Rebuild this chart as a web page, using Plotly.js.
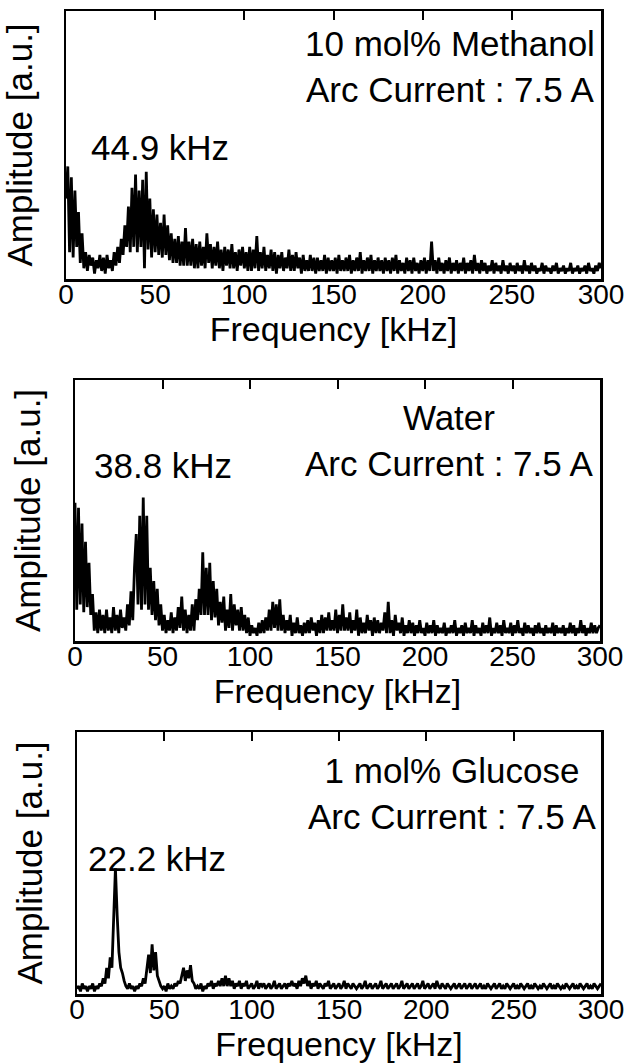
<!DOCTYPE html>
<html>
<head>
<meta charset="utf-8">
<script src="https://cdn.plot.ly/plotly-3.0.1.min.js"></script>
<style>html,body{margin:0;padding:0;background:#fff;}#chart{width:624px;height:1063px;}</style>
</head>
<body>
<div id="chart"></div>
<script>
// Frequency axis (kHz), 1 kHz steps
const freqKHz = Array.from({length: 301}, (_, i) => i);

// Amplitude [a.u.] (0 = frame bottom, 100 = frame top)
const methanol10 = [
  30,42,10,38,8,33,12,25,6,17,
  4,10,3,9,5,8,2,7,4,9,
  3,8,2,9,4,7,3,10,5,12,
  6,15,9,20,12,27,10,34,12,39,
  10,33,12,37,4,40,11,30,8,26,
  10,24,9,21,8,24,9,20,7,17,
  6,15,6,16,5,14,5,19,5,14,
  5,15,4,13,4,14,5,12,4,17,
  6,13,4,12,5,14,4,11,3,12,
  5,11,4,13,4,10,3,11,5,12,
  4,10,3,12,3,11,4,16,3,10,
  4,12,3,9,4,11,3,10,2,9,
  4,10,3,8,4,11,3,9,3,10,
  4,8,2,9,3,7,3,9,3,8,
  2,8,3,7,3,9,2,8,3,7,
  3,8,2,9,3,7,3,8,3,9,
  2,7,3,8,3,10,2,7,3,8,
  3,9,2,7,3,8,3,7,2,8,
  3,7,2,8,3,9,2,7,3,6,
  2,8,3,7,2,8,3,6,2,7,
  3,8,2,7,3,14,3,7,2,8,
  3,6,2,7,3,8,2,6,3,7,
  2,6,3,8,2,6,3,7,2,9,
  3,6,2,7,3,6,2,5,3,7,
  2,6,3,5,2,7,3,5,2,6,
  3,5,2,6,3,5,2,7,3,5,
  2,6,3,5,2,4,3,6,2,5,
  3,4,2,5,3,6,2,4,3,5,
  2,4,3,6,2,4,3,5,2,4,
  3,5,2,6,3,4,2,5,3,6,
  4
];
const water = [
  53,12,51,14,45,11,38,13,30,10,
  18,4,11,3,12,4,10,3,12,4,
  9,3,13,4,10,3,12,5,9,4,
  14,6,19,8,28,41,14,48,12,55,
  14,48,12,28,10,23,8,20,6,14,
  4,10,3,8,4,11,3,9,4,13,
  5,17,4,12,3,10,4,14,4,16,
  8,20,10,34,10,28,10,30,8,23,
  9,20,6,15,7,17,4,12,5,18,
  4,14,6,12,4,13,4,10,3,9,
  2,6,3,5,2,7,3,8,3,9,
  4,12,4,15,5,14,4,16,4,10,
  3,8,4,10,2,7,3,9,3,6,
  2,7,3,8,3,9,4,7,2,8,
  3,10,3,9,4,11,4,8,4,12,
  3,10,4,14,4,9,4,11,3,8,
  4,12,2,9,3,7,3,10,4,8,
  2,9,3,8,3,7,4,11,3,15,
  3,8,2,10,4,7,3,9,2,6,
  3,8,3,7,2,6,3,8,3,5,
  2,7,3,6,3,8,2,6,3,5,
  3,7,2,5,3,6,3,8,2,5,
  3,6,2,7,3,5,3,8,2,6,
  3,5,2,7,3,6,3,9,2,5,
  3,7,3,6,2,8,3,5,3,7,
  2,6,3,8,3,5,2,7,3,6,
  3,5,2,6,3,7,3,5,2,6,
  3,5,3,7,2,6,3,5,3,6,
  2,5,3,7,3,6,2,5,3,8,
  3,6,2,5,3,7,3,6,3,5,
  6
];
const glucose1 = [
  2,3,1,4,2,3,1,3,2,4,
  1,3,2,4,3,6,4,10,6,14,
  10,34,48,30,16,10,8,5,3,2,
  4,2,3,1,3,2,4,3,6,4,
  10,15,8,19,9,16,7,5,3,2,
  3,1,4,2,3,2,4,3,5,4,
  7,10,5,9,6,11,5,4,2,3,
  2,4,1,3,2,4,3,5,2,4,
  3,5,3,6,3,7,3,6,3,5,
  2,4,3,5,2,4,3,5,2,3,
  4,2,3,5,2,4,3,4,2,3,
  4,2,3,5,2,3,4,2,3,4,
  2,4,3,5,3,4,2,5,3,6,
  4,7,3,5,2,4,3,5,2,4,
  3,2,4,3,5,2,3,4,2,3,
  4,2,3,5,2,4,3,2,4,3,
  2,3,4,2,3,5,2,3,4,2,
  3,4,2,3,5,2,3,4,2,3,
  4,2,3,4,2,3,5,2,3,4,
  2,3,4,2,3,4,2,3,5,2,
  3,4,2,3,4,2,5,3,2,4,
  3,2,4,3,2,3,4,2,3,4,
  2,3,4,2,3,4,2,3,4,2,
  3,4,2,3,2,4,3,2,3,4,
  2,3,4,2,3,2,4,3,2,3,
  4,2,3,2,4,3,2,3,4,2,
  3,2,4,3,2,3,2,4,3,2,
  3,4,2,3,2,4,3,2,3,2,
  4,3,2,3,4,2,3,2,4,3,
  2,3,4,2,3,2,4,3,2,3,
  4
];

const tickVals = [0, 50, 100, 150, 200, 250, 300];
const tickText = ['0', '50', '100', '150', '200', '250', '300'];
const xTitle = 'Frequency [kHz]';
const yTitle = 'Amplitude [a.u.]';
const panelLabels = [
  '10 mol% Methanol<br>Arc Current : 7.5 A',
  'Water<br>Arc Current : 7.5 A',
  '1 mol% Glucose<br>Arc Current : 7.5 A'
];
const peakLabels = ['44.9 kHz', '38.8 kHz', '22.2 kHz'];
const series = [methanol10, water, glucose1];

const W = 624, H = 1063;
// panel frames in pixels: [left, right, top, bottom]
const frames = [[66, 601, 11, 279], [75, 600, 380, 641], [77, 601, 732, 994]];
const blockPos = [[450, 67], [449, 440], [452, 793]];
const peakPos = [[160, 147], [163, 465], [157, 858]];

const FONT = 'Liberation Sans, Arial, Helvetica, sans-serif';
const TXT = 35;
const traces = [];
const layout = {
  width: W, height: H,
  margin: {l: 0, r: 0, t: 0, b: 0},
  paper_bgcolor: '#fff', plot_bgcolor: '#fff',
  showlegend: false,
  font: {family: FONT, color: '#000', size: 28},
  annotations: []
};

series.forEach((s, i) => {
  const n = i + 1;
  const xa = 'x' + (n === 1 ? '' : n);
  const ya = 'y' + (n === 1 ? '' : n);
  traces.push({
    x: freqKHz, y: s, type: 'scatter', mode: 'lines',
    xaxis: xa, yaxis: ya,
    line: {color: '#000', width: 2.8}, hoverinfo: 'skip'
  });
  const [l, r, t, b] = frames[i];
  const xd = [l / W, r / W];
  const yd = [1 - b / H, 1 - t / H];
  layout['xaxis' + (n === 1 ? '' : n)] = {
    domain: xd, anchor: ya, range: [0, 300],
    showline: true, linecolor: '#000', linewidth: 2.5, mirror: true,
    ticks: '', tickvals: tickVals, ticktext: tickText,
    tickfont: {size: 28, family: FONT, color: '#000'},
    ticklabelstandoff: -11, ticklabeloverflow: 'allow',
    showgrid: false, zeroline: false, fixedrange: true,
    title: {text: xTitle, font: {size: 34, family: FONT, color: '#000'}, standoff: 0}
  };
  layout['yaxis' + (n === 1 ? '' : n)] = {
    domain: yd, anchor: xa, range: [0, 100],
    showline: true, linecolor: '#000', linewidth: 2.5, mirror: true,
    ticks: '', showticklabels: false, showgrid: false, zeroline: false, fixedrange: true,
    title: {text: yTitle, font: {size: TXT, family: FONT, color: '#000'}, standoff: 22}
  };
  // top axis carrying inward ticks
  const topN = n + 3;
  layout['xaxis' + topN] = {
    domain: xd, anchor: ya, overlaying: xa, side: 'top', range: [0, 300],
    tickvals: tickVals, ticks: 'inside', ticklen: 9, tickwidth: 2, tickcolor: '#000',
    showticklabels: false, showline: false, showgrid: false, zeroline: false, fixedrange: true
  };
  layout.annotations.push({
    xref: 'paper', yref: 'paper', x: blockPos[i][0] / W, y: 1 - blockPos[i][1] / H,
    xanchor: 'center', yanchor: 'middle', align: 'center', showarrow: false,
    text: panelLabels[i], font: {size: TXT, family: FONT, color: '#000'}
  });
  layout.annotations.push({
    xref: 'paper', yref: 'paper', x: peakPos[i][0] / W, y: 1 - peakPos[i][1] / H,
    xanchor: 'center', yanchor: 'middle', showarrow: false,
    text: peakLabels[i], font: {size: TXT, family: FONT, color: '#000'}
  });
  // empty trace so the top tick axis is drawn
  traces.push({x: [0], y: [null], xaxis: 'x' + topN, yaxis: ya, type: 'scatter', mode: 'lines', hoverinfo: 'skip', showlegend: false});
});

Plotly.newPlot('chart', traces, layout, {displayModeBar: false, staticPlot: true});
</script>
</body>
</html>
